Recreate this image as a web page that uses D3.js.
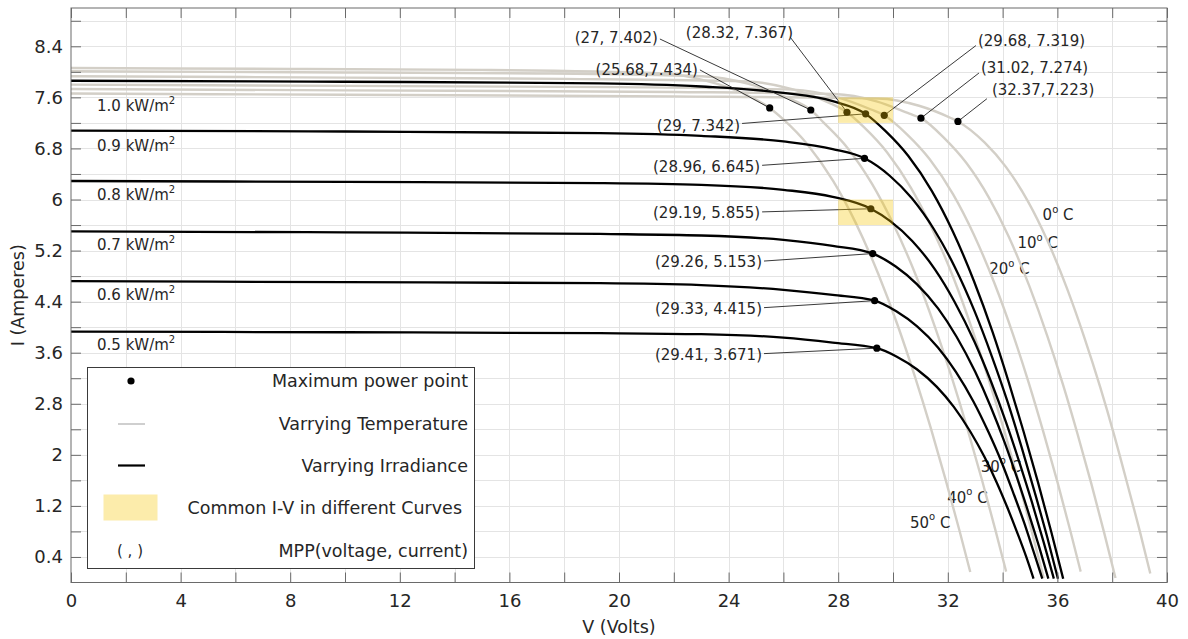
<!DOCTYPE html>
<html><head><meta charset="utf-8">
<script src="https://cdn.jsdelivr.net/npm/d3@7"></script>
<style>
body{margin:0;background:#fff}
svg{display:block}
text{font-family:"DejaVu Sans",sans-serif;fill:#262626}
</style>
</head><body>
<svg id="c" width="1188" height="639"></svg>
<script>
// ---------------- DATA ----------------
// Varying irradiance curves (25 C): voltage (V) and current (A)
const irrNames = ["1.0", "0.9", "0.8", "0.7", "0.6", "0.5"];
const irr10V = [0, 10, 19.3, 23, 26, 27.8, 29.00, 29.72, 30.56, 31.42, 32.18, 32.96, 33.63, 34.22, 34.77, 35.29, 35.78, 36.21];
const irr10I = [7.86, 7.845, 7.82, 7.77, 7.67, 7.54, 7.342, 7.074, 6.681, 6.131, 5.502, 4.716, 3.93, 3.144, 2.358, 1.572, 0.786, 0.06];
const irr09V = [0, 10, 19.3, 23, 26, 27.8, 28.96, 29.88, 30.69, 31.51, 32.24, 32.98, 33.61, 34.18, 34.69, 35.17, 35.63, 36.02];
const irr09I = [7.08, 7.065, 7.04, 6.997, 6.91, 6.79, 6.645, 6.372, 6.018, 5.522, 4.956, 4.248, 3.54, 2.832, 2.124, 1.416, 0.708, 0.06];
const irr08V = [0, 10, 19.3, 23, 26, 27.8, 29.19, 29.90, 30.71, 31.53, 32.24, 32.97, 33.58, 34.12, 34.61, 35.07, 35.50, 35.87];
const irr08I = [6.29, 6.275, 6.257, 6.23, 6.152, 6.042, 5.855, 5.661, 5.347, 4.906, 4.403, 3.774, 3.145, 2.516, 1.887, 1.258, 0.629, 0.06];
const irr07V = [0, 10, 19.3, 23, 26, 27.8, 29.26, 30.10, 30.87, 31.65, 32.32, 33.00, 33.57, 34.07, 34.52, 34.94, 35.34, 35.67];
const irr07I = [5.50, 5.485, 5.46, 5.436, 5.368, 5.274, 5.153, 4.95, 4.675, 4.29, 3.85, 3.30, 2.75, 2.20, 1.65, 1.10, 0.55, 0.06];
const irr06V = [0, 10, 19.3, 23, 26, 27.8, 29.33, 30.12, 30.88, 31.64, 32.29, 32.94, 33.48, 33.96, 34.38, 34.78, 35.14, 35.45];
const irr06I = [4.72, 4.705, 4.69, 4.66, 4.585, 4.506, 4.415, 4.248, 4.012, 3.682, 3.304, 2.832, 2.36, 1.888, 1.416, 0.944, 0.472, 0.06];
const irr05V = [0, 10, 19.3, 23, 26, 27.8, 29.41, 30.14, 30.87, 31.60, 32.22, 32.83, 33.34, 33.78, 34.17, 34.53, 34.87, 35.13];
const irr05I = [3.93, 3.92, 3.906, 3.89, 3.837, 3.759, 3.671, 3.537, 3.3405, 3.065, 2.751, 2.358, 1.965, 1.572, 1.179, 0.786, 0.393, 0.06];

// Varying temperature curves (1.0 kW/m2)
const tempNames = ["0", "10", "20", "30", "40", "50"];
const t0V  = [0, 10, 22, 29.46, 30.95, 32.11, 32.37, 33.34, 34.12, 34.92, 35.63, 36.36, 36.99, 37.56, 38.08, 38.56, 39.03, 39.39];
const t0I  = [7.66, 7.64, 7.615, 7.583, 7.4685, 7.277, 7.223, 6.894, 6.511, 5.975, 5.362, 4.596, 3.83, 3.064, 2.298, 1.532, 0.766, 0.14];
const t10V = [0, 10, 22, 27.86, 29.40, 30.60, 31.02, 31.88, 32.68, 33.50, 34.23, 34.98, 35.63, 36.21, 36.74, 37.24, 37.71, 38.12];
const t10I = [7.73, 7.71, 7.685, 7.653, 7.537, 7.344, 7.274, 6.957, 6.5705, 6.029, 5.411, 4.638, 3.865, 3.092, 2.319, 1.546, 0.773, 0.07];
const t20V = [0, 10, 20, 26.36, 27.95, 29.20, 29.68, 30.51, 31.34, 32.19, 32.94, 33.71, 34.37, 34.96, 35.50, 36.01, 36.49, 36.85];
const t20I = [7.80, 7.78, 7.76, 7.722, 7.605, 7.41, 7.319, 7.02, 6.63, 6.084, 5.46, 4.68, 3.90, 3.12, 2.34, 1.56, 0.78, 0.17];
const t30V = [0, 10, 18, 24.63, 26.28, 27.57, 28.32, 28.93, 29.78, 30.65, 31.42, 32.22, 32.89, 33.50, 34.06, 34.58, 35.07, 35.50];
const t30I = [7.93, 7.91, 7.89, 7.851, 7.732, 7.5335, 7.367, 7.137, 6.7405, 6.185, 5.551, 4.758, 3.965, 3.172, 2.379, 1.586, 0.793, 0.07];
const t40V = [0, 10, 17, 23.03, 24.73, 26.06, 27.00, 27.46, 28.34, 29.23, 30.02, 30.84, 31.53, 32.15, 32.72, 33.25, 33.75, 34.13];
const t40I = [8.01, 7.99, 7.975, 7.93, 7.81, 7.6095, 7.402, 7.209, 6.8085, 6.248, 5.607, 4.806, 4.005, 3.204, 2.403, 1.602, 0.801, 0.17];
const t50V = [0, 8, 15, 21.44, 23.19, 24.56, 25.50, 26.00, 26.90, 27.82, 28.63, 29.46, 30.17, 30.80, 31.38, 31.92, 32.43, 32.82];
const t50I = [8.06, 8.045, 8.03, 7.979, 7.8585, 7.657, 7.434, 7.254, 6.851, 6.287, 5.642, 4.836, 4.03, 3.224, 2.418, 1.612, 0.806, 0.165];

// Maximum power points
const mppV = [25.5, 27, 28.32, 29, 29.68, 31.02, 32.37, 28.96, 29.19, 29.26, 29.33, 29.41];
const mppI = [7.434, 7.402, 7.367, 7.342, 7.319, 7.274, 7.223, 6.645, 5.855, 5.153, 4.415, 3.671];
const mppText = ["(25.68,7.434)", "(27, 7.402)", "(28.32, 7.367)", "(29, 7.342)", "(29.68, 7.319)", "(31.02, 7.274)",
                 "(32.37,7.223)", "(28.96, 6.645)", "(29.19, 5.855)", "(29.26, 5.153)", "(29.33, 4.415)", "(29.41, 3.671)"];

// Common I-V regions
const commonV = [[28, 30], [28, 30]];
const commonI = [[7.2, 7.6], [5.6, 6.0]];

// Axis ticks
const xTickVals = d3.range(0, 41, 2);
const yTickVals = d3.range(1, 23).map(i => +(i * 0.4).toFixed(1));

// ---------------- LAYOUT ----------------
// annotation label anchor (in data units), text anchor, leader start offset (px)
const mppLabelPos = [
  [22.88, 8.03, "end", 2, 0], [21.42, 8.53, "end", 2, 1], [26.35, 8.61, "end", -3, 4],
  [24.42, 7.16, "end", 2, -2], [33.10, 8.49, "start", -2, 5], [33.21, 8.06, "start", -2, 5],
  [33.61, 7.72, "start", -5, 9], [25.15, 6.52, "end", 2, -1], [25.15, 5.79, "end", 2, -1],
  [25.22, 5.02, "end", 2, -1], [25.22, 4.29, "end", 2, -1], [25.22, 3.57, "end", 2, -1]
];
const irrLabelPos = [[0.95, 7.47], [0.95, 6.84], [0.95, 6.07], [0.95, 5.29], [0.95, 4.51], [0.95, 3.72]];
const tempLabelPos = [[35.46, 5.76], [34.54, 5.32], [33.51, 4.91], [33.20, 1.815], [31.98, 1.33], [30.62, 0.94]];

const x = d3.scaleLinear().domain([0, 40]).range([71, 1167]);
const y = d3.scaleLinear().domain([0, 9]).range([582.5, 8]);
const svg = d3.select("#c");

const zip = (a, b) => a.map((v, i) => [v, b[i]]);
const irrCurves = [zip(irr10V, irr10I), zip(irr09V, irr09I), zip(irr08V, irr08I), zip(irr07V, irr07I), zip(irr06V, irr06I), zip(irr05V, irr05I)];
const tempCurves = [zip(t0V, t0I), zip(t10V, t10I), zip(t20V, t20I), zip(t30V, t30I), zip(t40V, t40I), zip(t50V, t50I)];

svg.append("defs").append("clipPath").attr("id", "clip")
  .append("rect").attr("x", x(0)).attr("y", y(9)).attr("width", x(40) - x(0)).attr("height", y(0) - y(9));

// grid
const grid = svg.append("g").attr("stroke", "#e4e4e4").attr("stroke-width", 1).attr("shape-rendering", "crispEdges");
grid.selectAll("line.gx").data(xTickVals.filter(d => d > 0 && d < 40)).join("line")
  .attr("x1", d => Math.round(x(d)) + 0.5).attr("x2", d => Math.round(x(d)) + 0.5)
  .attr("y1", y(0)).attr("y2", y(9));
grid.selectAll("line.gy").data(yTickVals).join("line")
  .attr("y1", d => Math.round(y(d)) + 0.5).attr("y2", d => Math.round(y(d)) + 0.5)
  .attr("x1", x(0)).attr("x2", x(40));

const plot = svg.append("g").attr("clip-path", "url(#clip)");

// temperature labels (behind curves)
const fs = 15;
plot.selectAll("text.tl").data(tempNames).join("text")
  .attr("x", (d, i) => x(tempLabelPos[i][0])).attr("y", (d, i) => y(tempLabelPos[i][1]))
  .attr("dy", "0.35em").attr("font-size", fs)
  .each(function (d) {
    const t = d3.select(this);
    t.append("tspan").text(d);
    t.append("tspan").attr("font-size", 10).attr("dy", "-0.75em").text("o");
    t.append("tspan").attr("dy", "0.5em").text(" C");
  });

const line = d3.line().x(d => x(d[0])).y(d => y(d[1])).curve(d3.curveMonotoneX);

plot.selectAll("path.tc").data(tempCurves).join("path")
  .attr("d", line).attr("fill", "none").attr("stroke", "#d3cfc7").attr("stroke-width", 2.4);
plot.selectAll("path.ic").data(irrCurves).join("path")
  .attr("d", line).attr("fill", "none").attr("stroke", "#000").attr("stroke-width", 2.3);

// irradiance labels
plot.selectAll("text.il").data(irrNames).join("text")
  .attr("x", (d, i) => x(irrLabelPos[i][0])).attr("y", (d, i) => y(irrLabelPos[i][1]))
  .attr("dy", "0.35em").attr("font-size", fs)
  .each(function (d) {
    const t = d3.select(this);
    t.append("tspan").text(d + " kW/m");
    t.append("tspan").attr("font-size", 10).attr("dy", "-0.7em").text("2");
  });

// leader lines
const lead = svg.append("g").attr("stroke", "#222").attr("stroke-width", 0.9);
lead.selectAll("line").data(mppV).join("line")
  .attr("x1", (d, i) => x(mppLabelPos[i][0]) + mppLabelPos[i][3])
  .attr("y1", (d, i) => y(mppLabelPos[i][1]) + mppLabelPos[i][4])
  .attr("x2", (d, i) => x(mppV[i])).attr("y2", (d, i) => y(mppI[i]));

// dots
svg.append("g").selectAll("circle").data(mppV).join("circle")
  .attr("cx", (d, i) => x(mppV[i])).attr("cy", (d, i) => y(mppI[i])).attr("r", 3.6).attr("fill", "#000");

// labels
svg.append("g").selectAll("text").data(mppText).join("text")
  .attr("x", (d, i) => x(mppLabelPos[i][0])).attr("y", (d, i) => y(mppLabelPos[i][1]))
  .attr("text-anchor", (d, i) => mppLabelPos[i][2]).attr("dy", "0.35em").attr("font-size", fs)
  .text(d => d);

// common I-V rects (semi-transparent, on top)
svg.append("g").selectAll("rect").data(commonV).join("rect")
  .attr("x", (d, i) => x(commonV[i][0])).attr("width", (d, i) => x(commonV[i][1]) - x(commonV[i][0]))
  .attr("y", (d, i) => y(commonI[i][1])).attr("height", (d, i) => y(commonI[i][0]) - y(commonI[i][1]))
  .attr("fill", "#f5c400").attr("fill-opacity", 0.33);

// axes
const axCol = "#6a6a6a";
const fmtX = d => (d % 4 === 0 ? d : "");
const fmtY = (d, i) => (i % 2 === 0 ? String(d) : "");
const gB = svg.append("g").attr("transform", `translate(0,${y(0)})`)
  .call(d3.axisBottom(x).tickValues(xTickVals).tickSizeInner(-10).tickSizeOuter(0).tickPadding(12).tickFormat(fmtX));
const gT = svg.append("g").attr("transform", `translate(0,${y(9)})`)
  .call(d3.axisTop(x).tickValues(xTickVals).tickSizeInner(-10).tickSizeOuter(0).tickFormat(""));
const gL = svg.append("g").attr("transform", `translate(${x(0)},0)`)
  .call(d3.axisLeft(y).tickValues(yTickVals).tickSizeInner(-10).tickSizeOuter(0).tickPadding(8).tickFormat(fmtY));
const gR = svg.append("g").attr("transform", `translate(${x(40)},0)`)
  .call(d3.axisRight(y).tickValues(yTickVals).tickSizeInner(-10).tickSizeOuter(0).tickFormat(""));
[gB, gT, gL, gR].forEach(g => {
  g.select(".domain").remove();
  g.selectAll(".tick line").attr("stroke", axCol);
  g.selectAll("text").attr("font-family", "DejaVu Sans").attr("font-size", 18).attr("fill", "#262626");
});
svg.append("rect").attr("x", x(0)).attr("y", y(9)).attr("width", x(40) - x(0)).attr("height", y(0) - y(9))
  .attr("fill", "none").attr("stroke", axCol).attr("stroke-width", 1);

// axis titles
svg.append("text").attr("x", (x(0) + x(40)) / 2).attr("y", 627).attr("dy", "0.35em")
  .attr("text-anchor", "middle").attr("font-size", 17.5).text("V (Volts)");
svg.append("text").attr("transform", `translate(18,${(y(0) + y(9)) / 2}) rotate(-90)`).attr("dy", "0.35em")
  .attr("text-anchor", "middle").attr("font-size", 17.5).text("I (Amperes)");

// legend
const lg = svg.append("g");
lg.append("rect").attr("x", 87.5).attr("y", 367.5).attr("width", 387).attr("height", 201)
  .attr("fill", "#fff").attr("stroke", "#3a3a3a").attr("stroke-width", 1);
const rowsY = [381, 424, 465.5, 508, 551];
const legText = ["Maximum power point", "Varrying Temperature", "Varrying Irradiance", "Common I-V in different Curves", "MPP(voltage, current)"];
lg.selectAll("text.lt").data(legText).join("text")
  .attr("x", (d, i) => (i === 3 ? 462 : 468)).attr("y", (d, i) => rowsY[i]).attr("dy", "0.35em")
  .attr("text-anchor", "end").attr("font-size", 17.5).text(d => d);
lg.append("circle").attr("cx", 131).attr("cy", rowsY[0]).attr("r", 3.6).attr("fill", "#000");
lg.append("line").attr("x1", 118).attr("x2", 145).attr("y1", rowsY[1]).attr("y2", rowsY[1]).attr("stroke", "#cfcfcf").attr("stroke-width", 2);
lg.append("line").attr("x1", 118).attr("x2", 145).attr("y1", rowsY[2]).attr("y2", rowsY[2]).attr("stroke", "#000").attr("stroke-width", 2.2);
lg.append("rect").attr("x", 103.5).attr("y", 494.5).attr("width", 54).attr("height", 26).attr("fill", "#f5c400").attr("fill-opacity", 0.33);
lg.append("text").attr("x", 130).attr("y", rowsY[4]).attr("dy", "0.35em").attr("text-anchor", "middle")
  .attr("font-size", 15).text("( , )");
</script>
</body></html>
